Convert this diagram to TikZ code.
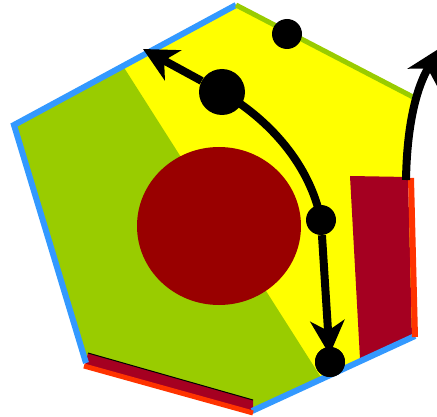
\documentclass[tikz,border=0pt]{standalone}
\usetikzlibrary{arrows.meta}
\definecolor{cyel}{HTML}{FFFF00}
\definecolor{cgreen}{HTML}{99CC00}
\definecolor{cblue}{HTML}{3399FF}
\definecolor{ccrim}{HTML}{A50021}
\definecolor{cred}{HTML}{FF3300}
\definecolor{cdred}{HTML}{990000}
\begin{document}
\begin{tikzpicture}[x=1pt,y=-1pt,
  dot/.style={circle,fill=black,inner sep=0pt},
  edge/.style={line width=6pt,line cap=butt},
  blk/.style={line width=8pt,black},
  tipA/.style={-{Stealth[length=34pt,width=34pt,inset=10pt]}}]
\useasboundingbox (0,0) rectangle (437,417);
% hexagon
\coordinate (A) at (236,5);
\coordinate (B) at (413,97);
\coordinate (Bc) at (407,178);
\coordinate (C) at (415,336);
\coordinate (D) at (252,411);
\coordinate (E) at (86,363);
\coordinate (F) at (14,125);
\coordinate (G1) at (123,66);
\coordinate (G2) at (322,379);
\fill[cyel] (A)--(B)--(Bc)--(C)--(D)--(E)--(F)--cycle;
\fill[cgreen] (F)--(G1)--(G2)--(D)--(E)--cycle;
\fill[cdred] (219,226) ellipse [x radius=82pt, y radius=79pt];
% crimson shapes
\fill[ccrim] (350,176)--(408,177)--(412,338)--(360,359)--cycle;
\fill[ccrim] (85,365)--(253,412)--(253,400)--(88,353)--cycle;
\draw[black,line width=1pt] (88,353)--(253,400);
% edges
\draw[edge,cblue,line join=miter] (A)--(F)--(E);
\draw[edge,cblue] (D)--(C);
\draw[edge,cgreen,line width=5pt] (A)--(B);
\draw[edge,cred,line width=5pt] (84,366)--(253,413);
\draw[edge,cred] (411,178)--(415,337);
% dots
\node[dot,minimum size=30pt] (top) at (287,34) {};
\node[dot,minimum size=46pt] (big) at (222,92) {};
\node[dot,minimum size=30pt] (mid) at (321,220) {};
\node[dot,minimum size=30pt] (bot) at (330,362) {};
\coordinate (tl) at (143,49);
\coordinate (rb) at (406,180);
\coordinate (rt) at (440,48);
% connectors
\draw[blk,tipA] (big) -- (tl);
\draw[blk] (big.center) .. controls (270,120) and (310,165) .. (mid.center);
\draw[blk,tipA,shorten >=-8pt] (mid) -- (bot);
\draw[blk,tipA] (rb) .. controls (407,120) and (418,85) .. (rt);
\node[dot,minimum size=30pt] at (bot) {};
\end{tikzpicture}
\end{document}
